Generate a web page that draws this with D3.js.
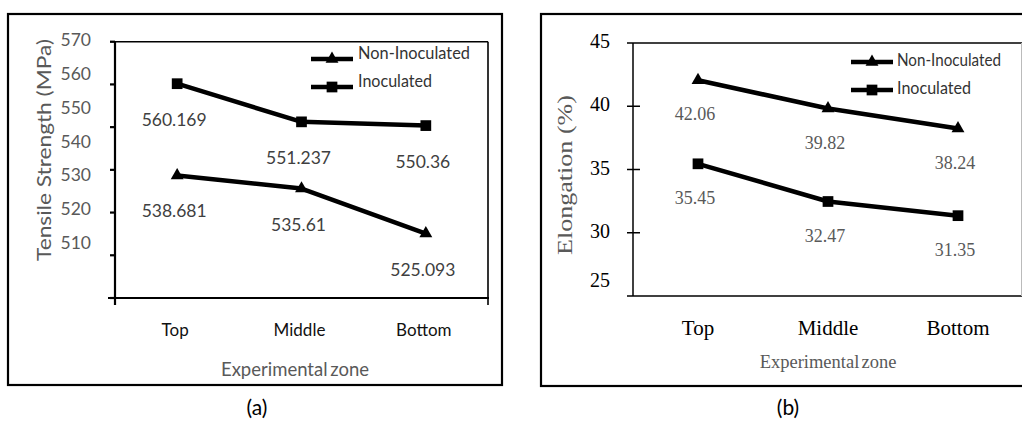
<!DOCTYPE html>
<html>
<head>
<meta charset="utf-8">
<script src="https://cdn.jsdelivr.net/npm/d3@7"></script>
<style>
  body { margin: 0; background: #fff; }
  svg { display: block; }
</style>
</head>
<body>
<div id="chart"></div>
<script>
// values
var zones = ["Top", "Middle", "Bottom"];
var seriesNames = ["Non-Inoculated", "Inoculated"];
var tensileNonInoc = [538.681, 535.61, 525.093];
var tensileInoc = [560.169, 551.237, 550.36];
var tensileTicks = [570, 560, 550, 540, 530, 520, 510];
var elongNonInoc = [42.06, 39.82, 38.24];
var elongInoc = [35.45, 32.47, 31.35];
var elongTicks = [45, 40, 35, 30, 25];

var svg = d3.select('#chart').append('svg')
    .attr('width', 1022)
    .attr('height', 423)

var tri = d3.symbol().type(d3.symbolTriangle).size(72)
var sq = d3.symbol().type(d3.symbolSquare).size(115)

// ---------- panel (a) ----------
var sansA = "Lato, 'Open Sans', sans-serif"
var a = svg.append('g')

a.append('rect').attr('x', 8).attr('y', 14).attr('width', 494).attr('height', 371)
    .attr('fill', 'none').attr('stroke', '#000').attr('stroke-width', 2.2)

var xA = d3.scalePoint().domain(zones).range([115, 488]).padding(0.5)
var yA = d3.scaleLinear().domain([510, 570]).range([298, 41.7])
// the tick labels in the original sit on a tighter spacing than the ticks
var yALabel = d3.scaleLinear().domain([510, 570]).range([243, 40])

// plot frame
a.append('line').attr('x1', 110).attr('x2', 488).attr('y1', yA(570)).attr('y2', yA(570))
    .attr('stroke', '#000').attr('stroke-width', 1.6)
a.append('line').attr('x1', 488).attr('x2', 488).attr('y1', yA(570)).attr('y2', 305)
    .attr('stroke', '#000').attr('stroke-width', 1.6)
a.append('line').attr('x1', 115).attr('x2', 115).attr('y1', yA(570)).attr('y2', 305)
    .attr('stroke', '#000').attr('stroke-width', 2.2)
a.append('line').attr('x1', 108).attr('x2', 489).attr('y1', 298).attr('y2', 298)
    .attr('stroke', '#000').attr('stroke-width', 2.2)

a.selectAll('.tk').data(tensileTicks).enter().append('line')
    .attr('x1', 110).attr('x2', 115)
    .attr('y1', function (d) { return yA(d) }).attr('y2', function (d) { return yA(d) })
    .attr('stroke', '#000').attr('stroke-width', 2.2)

a.selectAll('.tl').data(tensileTicks).enter().append('text')
    .attr('x', 91).attr('y', function (d) { return yALabel(d) + 6 })
    .attr('text-anchor', 'end')
    .style('font-family', sansA).style('font-size', '17.5px').style('fill', '#595959')
    .text(function (d) { return d })

a.append('text')
    .attr('transform', 'translate(51,150) rotate(-90)')
    .attr('text-anchor', 'middle')
    .attr('textLength', 222).attr('lengthAdjust', 'spacingAndGlyphs')
    .style('font-family', sansA).style('font-size', '20px').style('fill', '#595959')
    .text('Tensile Strength (MPa)')

a.selectAll('.xl').data(zones).enter().append('text')
    .attr('x', function (d) { return xA(d) - 2 }).attr('y', 336)
    .attr('text-anchor', 'middle')
    .style('font-family', sansA).style('font-size', '17px').style('fill', '#111')
    .text(function (d) { return d })

a.append('text').attr('x', 295).attr('y', 376).attr('text-anchor', 'middle')
    .style('font-family', sansA).style('font-size', '18.5px').style('fill', '#595959')
    .style('word-spacing', '-2px')
    .text('Experimental zone')

var lineA = d3.line()
    .x(function (d, i) { return xA(zones[i]) })
    .y(function (d) { return yA(d) })

function drawSeries(g, vals, line, xs, ys, sym, dy, font, size, color) {
    g.append('path').datum(vals).attr('d', line)
        .attr('fill', 'none').attr('stroke', '#000').attr('stroke-width', 4.5)
        .attr('stroke-linejoin', 'round')
    g.selectAll(null).data(vals).enter().append('path')
        .attr('d', sym)
        .attr('transform', function (d, i) { return 'translate(' + xs(zones[i]) + ',' + ys(d) + ')' })
        .attr('fill', '#000')
    g.selectAll(null).data(vals).enter().append('text')
        .attr('x', function (d, i) { return xs(zones[i]) - 3 })
        .attr('y', function (d) { return ys(d) + dy })
        .attr('text-anchor', 'middle')
        .style('font-family', font).style('font-size', size).style('fill', color)
        .text(function (d) { return d })
}

drawSeries(a, tensileNonInoc, lineA, xA, yA, tri, 42, sansA, '17.5px', '#404040')
drawSeries(a, tensileInoc, lineA, xA, yA, sq, 42, sansA, '17.5px', '#404040')

function legend(g, x0, y0, gap, tx, tdy, font, size, widths) {
    var syms = [tri, sq]
    seriesNames.forEach(function (name, i) {
        var y = y0 + i * gap
        g.append('line').attr('x1', x0).attr('x2', x0 + 42).attr('y1', y).attr('y2', y)
            .attr('stroke', '#000').attr('stroke-width', 4.5)
        g.append('path').attr('d', syms[i]).attr('transform', 'translate(' + (x0 + 21) + ',' + y + ')')
        g.append('text').attr('x', tx).attr('y', y + tdy)
            .attr('textLength', widths[i]).attr('lengthAdjust', 'spacingAndGlyphs')
            .style('font-family', font).style('font-size', size).style('fill', '#333')
            .text(name)
    })
}
legend(a, 311, 59, 28, 358, 0, sansA, '17px', [112, 74])

a.append('text').attr('x', 257).attr('y', 415).attr('text-anchor', 'middle')
    .style('font-family', sansA).style('font-size', '21px').style('fill', '#000')
    .text('(a)')

// ---------- panel (b) ----------
var serif = "'Liberation Serif', 'Times New Roman', serif"
var b = svg.append('g')

b.append('rect').attr('x', 541).attr('y', 14).attr('width', 500).attr('height', 372)
    .attr('fill', 'none').attr('stroke', '#000').attr('stroke-width', 2.2)

var xB = d3.scalePoint().domain(zones).range([633, 1023]).padding(0.5)
var yB = d3.scaleLinear().domain([25, 45]).range([296, 43])

b.append('line').attr('x1', 627).attr('x2', 1022).attr('y1', yB(45)).attr('y2', yB(45))
    .attr('stroke', '#000').attr('stroke-width', 1.5)
b.append('line').attr('x1', 627).attr('x2', 1022).attr('y1', yB(25)).attr('y2', yB(25))
    .attr('stroke', '#000').attr('stroke-width', 1.5)
b.append('line').attr('x1', 633).attr('x2', 633).attr('y1', yB(45)).attr('y2', yB(25))
    .attr('stroke', '#000').attr('stroke-width', 1.5)
b.append('line').attr('x1', 1021.5).attr('x2', 1021.5).attr('y1', yB(45)).attr('y2', yB(25))
    .attr('stroke', '#bbb').attr('stroke-width', 1)

b.selectAll('.tk').data(elongTicks.slice(1, -1)).enter().append('line')
    .attr('x1', 627).attr('x2', 640)
    .attr('y1', function (d) { return yB(d) }).attr('y2', function (d) { return yB(d) })
    .attr('stroke', '#000').attr('stroke-width', 1.5)

b.selectAll('.tl').data(elongTicks).enter().append('text')
    .attr('x', 610)
    .attr('y', function (d) { return Math.min(yB(d) - 2, yB(25) - 16) + 7 })
    .attr('text-anchor', 'end')
    .style('font-family', serif).style('font-size', '20px').style('fill', '#000')
    .text(function (d) { return d })

b.append('text')
    .attr('transform', 'translate(572,175) rotate(-90)')
    .attr('text-anchor', 'middle')
    .attr('textLength', 160).attr('lengthAdjust', 'spacingAndGlyphs')
    .style('font-family', serif).style('font-size', '21px').style('fill', '#595959')
    .text('Elongation (%)')

b.selectAll('.xl').data(zones).enter().append('text')
    .attr('x', function (d) { return xB(d) }).attr('y', 335)
    .attr('text-anchor', 'middle')
    .style('font-family', serif).style('font-size', '21px').style('fill', '#000')
    .text(function (d) { return d })

b.append('text').attr('x', 828).attr('y', 368).attr('text-anchor', 'middle')
    .style('font-family', serif).style('font-size', '18.5px').style('fill', '#595959')
    .style('word-spacing', '-2.5px')
    .text('Experimental zone')

var lineB = d3.line()
    .x(function (d, i) { return xB(zones[i]) })
    .y(function (d) { return yB(d) })

drawSeries(b, elongNonInoc, lineB, xB, yB, tri, 40, serif, '18px', '#595959')
drawSeries(b, elongInoc, lineB, xB, yB, sq, 40, serif, '18px', '#595959')

legend(b, 851, 62, 28, 897, 4, sansA, '17px', [104, 74])

b.append('text').attr('x', 788).attr('y', 415).attr('text-anchor', 'middle')
    .style('font-family', sansA).style('font-size', '21px').style('fill', '#000')
    .text('(b)')
</script>
</body>
</html>
